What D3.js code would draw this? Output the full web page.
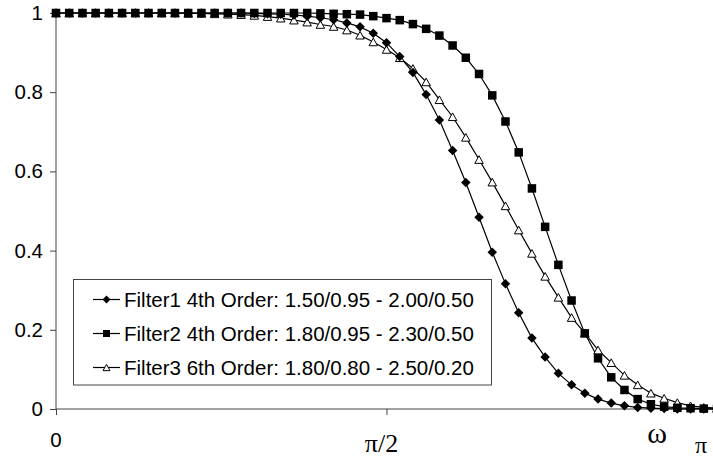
<!DOCTYPE html>
<html>
<head>
<meta charset="utf-8">
<script src="https://cdn.jsdelivr.net/npm/d3@7"></script>
<style>
html,body{margin:0;padding:0;background:#fff;overflow:hidden;}
svg{display:block;}
</style>
</head>
<body>
<svg id="chart" width="713" height="459"></svg>
<script>
// ---- data ----
const sampleCount = 51; // samples k = 0..50 over [0, pi]
const seriesNames = [
  "Filter1 4th Order: 1.50/0.95 - 2.00/0.50",
  "Filter2 4th Order: 1.80/0.95 - 2.30/0.50",
  "Filter3 6th Order: 1.80/0.80 - 2.50/0.20"
];
const filter1 = [1,1,1,1,1,1,1,1,1,1,1,1,1,1,1,
  0.999,0.998,0.997,0.995,0.992,0.988,0.983,0.975,0.965,0.949,0.925,0.890,0.850,0.794,0.730,
  0.653,0.572,0.484,0.396,0.316,0.243,0.179,0.131,0.090,0.061,0.040,0.025,0.015,0.008,0.004,
  0.002,0.001,0,0,0,0];
const filter2 = [1,1,1,1,1,1,1,1,1,1,1,1,1,1,1,1,1,1,1,1,
  0.999,0.998,0.997,0.996,0.992,0.987,0.982,0.972,0.960,0.943,0.918,0.887,0.846,0.792,0.726,
  0.648,0.557,0.460,0.364,0.274,0.191,0.128,0.080,0.048,0.025,0.012,0.006,0.003,0.002,0.001,0];
const filter3 = [1,1,1,1,1,1,1,1,1,1,
  0.999,0.999,0.998,0.997,0.996,0.994,0.991,0.987,0.982,0.977,0.971,0.966,0.957,0.944,0.927,
  0.908,0.887,0.860,0.826,0.781,0.738,0.686,0.630,0.573,0.513,0.452,0.393,0.335,0.282,0.231,
  0.192,0.149,0.117,0.085,0.061,0.040,0.027,0.016,0.008,0.004,0.002];
const yTicks = [0, 0.2, 0.4, 0.6, 0.8, 1];
const yTickLabels = ["0", "0.2", "0.4", "0.6", "0.8", "1"];
const xTicks = [0, Math.PI/2, Math.PI];

// ---- layout ----
const svg = d3.select("#chart");
const x = d3.scaleLinear().domain([0, Math.PI]).range([56, 717]);
const y = d3.scaleLinear().domain([0, 1]).range([409, 13]);
const omega = d3.range(sampleCount).map(k => k * Math.PI / (sampleCount - 1));

const series = [
  {name: seriesNames[0], values: filter1, shape: "diamond"},
  {name: seriesNames[1], values: filter2, shape: "square"},
  {name: seriesNames[2], values: filter3, shape: "triangle"}
];

const numFont = "'Liberation Sans', Arial, sans-serif";
const serifFont = "'Liberation Serif', 'Times New Roman', serif";

// y axis
const yAxis = d3.axisLeft(y).tickValues(yTicks)
  .tickFormat((d,i) => yTickLabels[i]).tickSize(6).tickPadding(7);
const gy = svg.append("g").attr("transform", "translate(56,0)").call(yAxis);
gy.select(".domain").attr("stroke", "#444").attr("d", "M0,13V409");
gy.selectAll(".tick line").attr("stroke", "#444");
gy.selectAll(".tick text").attr("font-family", numFont).attr("font-size", 20.5).attr("fill", "#000");

// x axis
const xAxis = d3.axisBottom(x).tickValues(xTicks).tickFormat("").tickSize(6);
const gx = svg.append("g").attr("transform", "translate(0,409)").call(xAxis);
gx.select(".domain").attr("stroke", "#444").attr("d", "M56,0H717");
gx.selectAll(".tick line").attr("stroke", "#444");

// x labels
svg.append("text").attr("x", x(0)).attr("y", 447).attr("text-anchor", "middle")
  .attr("font-family", numFont).attr("font-size", 20.5).text("0");
svg.append("text").attr("x", x(Math.PI/2) - 5).attr("y", 452).attr("text-anchor", "middle")
  .attr("font-family", serifFont).attr("font-size", 26).text("π/2");
svg.append("text").attr("x", 657).attr("y", 443).attr("text-anchor", "middle")
  .attr("font-family", serifFont).attr("font-size", 30).text("ω");
svg.append("text").attr("x", 701).attr("y", 453).attr("text-anchor", "middle")
  .attr("font-family", serifFont).attr("font-size", 24).text("π");

// lines
const line = d3.line().x((d,i) => x(omega[i])).y(d => y(d));
series.forEach(s => {
  svg.append("path").datum(s.values).attr("d", line)
    .attr("fill", "none").attr("stroke", "#000").attr("stroke-width", 1.2);
});

function drawMarker(g, shape, cx, cy, size) {
  if (shape === "diamond") {
    const r = size / 2 + 0.5;
    g.append("path").attr("d", `M${cx},${cy-r}L${cx+r},${cy}L${cx},${cy+r}L${cx-r},${cy}Z`)
      .attr("fill", "#000");
  } else if (shape === "square") {
    g.append("rect").attr("x", cx - size/2).attr("y", cy - size/2)
      .attr("width", size).attr("height", size).attr("fill", "#000");
  } else {
    const h = size * 0.9, w = size;
    g.append("path").attr("d", `M${cx},${cy-h/2}L${cx+w/2},${cy+h/2}L${cx-w/2},${cy+h/2}Z`)
      .attr("fill", "#fff").attr("stroke", "#000").attr("stroke-width", 1);
  }
}

// markers: triangles first, then diamonds, then squares
const markerOrder = [2, 0, 1];
markerOrder.forEach(si => {
  const s = series[si];
  const g = svg.append("g");
  s.values.forEach((v, i) => drawMarker(g, s.shape, x(omega[i]), y(v), 8.5));
});

// legend
const lg = svg.append("g");
lg.append("rect").attr("x", 73.5).attr("y", 279.5).attr("width", 418).attr("height", 105.5)
  .attr("fill", "#fff").attr("stroke", "#444").attr("stroke-width", 1);
const rowY = d3.scalePoint().domain(seriesNames).range([299.5, 367.5]);
series.forEach(s => {
  const cy = rowY(s.name);
  lg.append("line").attr("x1", 93).attr("x2", 120).attr("y1", cy).attr("y2", cy)
    .attr("stroke", "#000").attr("stroke-width", 1.2);
  drawMarker(lg, s.shape, 106.5, cy, 7);
  lg.append("text").attr("x", 124).attr("y", cy).attr("dy", "0.35em")
    .attr("font-family", numFont).attr("font-size", 20.5).text(s.name);
});
</script>
</body>
</html>
